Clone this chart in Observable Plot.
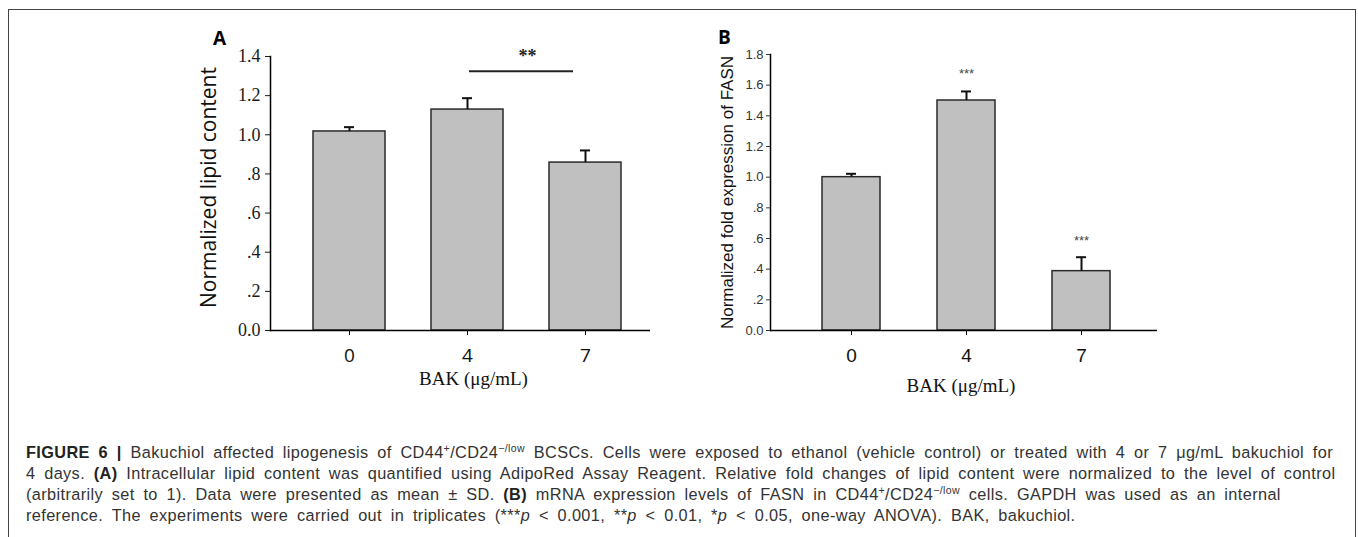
<!DOCTYPE html>
<html><head><meta charset="utf-8">
<script src="https://cdn.jsdelivr.net/npm/d3@7"></script>
<script src="https://cdn.jsdelivr.net/npm/@observablehq/plot@0.6"></script>
<style>
body{margin:0;background:#fff;}
#fig{position:relative;width:1358px;height:537px;overflow:hidden;background:#fff;}
#border{position:absolute;left:8px;top:9px;width:1346px;height:600px;border:1px solid #444;}
.panel{position:absolute;}
.letter{position:absolute;font-family:"Open Sans",sans-serif;font-weight:700;font-size:19px;line-height:1;color:#000;}
#caption{position:absolute;left:26px;top:442px;font-family:"Liberation Sans",Arial,sans-serif;font-size:16.3px;line-height:21px;color:#333;white-space:nowrap;}
#caption sup{font-size:10.5px;line-height:0;vertical-align:6px;}
#caption b{color:#222;}
</style></head>
<body>
<div id="fig">
  <div id="border"></div>
  <div class="letter" style="left:213px;top:29px">A</div>
  <div class="letter" style="left:718px;top:28px">B</div>
  <div id="panelA" class="panel" style="left:180px;top:20px"></div>
  <div id="panelB" class="panel" style="left:690px;top:20px"></div>
  <div id="caption">
    <div id="cap1"><b>FIGURE 6 |</b> Bakuchiol affected lipogenesis of CD44<sup>+</sup>/CD24<sup>−/low</sup> BCSCs. Cells were exposed to ethanol (vehicle control) or treated with 4 or 7 μg/mL bakuchiol for</div>
    <div>4 days. <b>(A)</b> Intracellular lipid content was quantified using AdipoRed Assay Reagent. Relative fold changes of lipid content were normalized to the level of control</div>
    <div>(arbitrarily set to 1). Data were presented as mean ± SD. <b>(B)</b> mRNA expression levels of FASN in CD44<sup>+</sup>/CD24<sup>−/low</sup> cells. GAPDH was used as an internal</div>
    <div>reference. The experiments were carried out in triplicates (***<i>p</i> &lt; 0.001, **<i>p</i> &lt; 0.01, *<i>p</i> &lt; 0.05, one-way ANOVA). BAK, bakuchiol.</div>
  </div>
</div>
<script>
// ---- data ----
const doses = ["0", "4", "7"];
const lipidMean = [1.017, 1.129, 0.858];
const lipidSD = [0.022, 0.058, 0.062];
const fasnMean = [1.0, 1.50, 0.387];
const fasnSD = [0.022, 0.059, 0.091];
const yTicksA = [0, 0.2, 0.4, 0.6, 0.8, 1.0, 1.2, 1.4];
const yTickLabelsA = ["0.0", ".2", ".4", ".6", ".8", "1.0", "1.2", "1.4"];
const yTicksB = [0, 0.2, 0.4, 0.6, 0.8, 1.0, 1.2, 1.4, 1.6, 1.8];
const yTickLabelsB = ["0.0", ".2", ".4", ".6", ".8", "1.0", "1.2", "1.4", "1.6", "1.8"];
const sigA = [{from: "4", to: "7", y: 1.325, label: "**", labelY: 1.40}];
const starsB = [{dose: "4", y: 1.676, label: "***"}, {dose: "7", y: 0.587, label: "***"}];
const yTitleA = "Normalized lipid content";
const yTitleB = "Normalized fold expression of FASN";
const xTitle = "BAK (μg/mL)";

const dataA = doses.map((d, i) => ({dose: d, mean: lipidMean[i], top: lipidMean[i] + lipidSD[i]}));
const dataB = doses.map((d, i) => ({dose: d, mean: fasnMean[i], top: fasnMean[i] + fasnSD[i]}));

const chartA = Plot.plot({
  width: 480, height: 380,
  marginLeft: 90, marginRight: 10, marginTop: 36, marginBottom: 70,
  style: {background: "transparent", overflow: "visible"},
  x: {type: "band", domain: doses, paddingInner: 0.39, paddingOuter: 0.305, align: 0.6, label: null},
  y: {domain: [0, 1.4], label: null},
  marks: [
    Plot.barY(dataA, {x: "dose", y: "mean", fill: "#c0c0c0", stroke: "#2a2a2a", strokeWidth: 1.5}),
    Plot.ruleX(dataA, {x: "dose", y1: "mean", y2: "top", stroke: "#111", strokeWidth: 2}),
    Plot.tickY(dataA, {x: "dose", y: "top", stroke: "#111", strokeWidth: 2, insetLeft: 31, insetRight: 31}),
    Plot.ruleY([0], {stroke: "#000", strokeWidth: 1.5}),
    Plot.frame({anchor: "left", stroke: "#000", strokeWidth: 1.5}),
    Plot.axisY({ticks: yTicksA, tickFormat: d => yTickLabelsA[yTicksA.indexOf(d)], tickSize: 5, tickPadding: 5,
      fontFamily: "Liberation Serif", fontSize: 18, color: "#1a1a1a", label: null}),
    Plot.axisX({tickSize: 5, tickPadding: 13, fontFamily: "Open Sans", fontSize: 19, color: "#111", label: null}),
    Plot.ruleY(sigA, {x1: "from", x2: "to", y: "y", stroke: "#222", strokeWidth: 2, insetLeft: 38, insetRight: 48}),
    Plot.text(sigA, {x: "from", y: "labelY", text: "label", dx: 60, fontFamily: "Liberation Serif", fontSize: 18, fontWeight: "bold", fill: "#222"}),
    Plot.text([yTitleA], {frameAnchor: "left", textAnchor: "middle", rotate: -90, dx: -61, dy: -6, fontFamily: "Open Sans", fontSize: 21, fill: "#111"}),
    Plot.text([xTitle], {frameAnchor: "bottom", dx: 13, dy: 54, fontFamily: "Liberation Serif", fontSize: 19, fill: "#111"})
  ]
});
document.getElementById("panelA").append(chartA);

const chartB = Plot.plot({
  width: 480, height: 380,
  marginLeft: 80, marginRight: 13, marginTop: 34, marginBottom: 70,
  style: {background: "transparent", overflow: "visible"},
  x: {type: "band", domain: doses, paddingInner: 0.495, paddingOuter: 0.419, align: 0.523, label: null},
  y: {domain: [0, 1.8], label: null},
  marks: [
    Plot.barY(dataB, {x: "dose", y: "mean", fill: "#c0c0c0", stroke: "#2a2a2a", strokeWidth: 1.5}),
    Plot.ruleX(dataB, {x: "dose", y1: "mean", y2: "top", stroke: "#111", strokeWidth: 2}),
    Plot.tickY(dataB, {x: "dose", y: "top", stroke: "#111", strokeWidth: 2, insetLeft: 24, insetRight: 24}),
    Plot.ruleY([0], {stroke: "#000", strokeWidth: 1.5}),
    Plot.frame({anchor: "left", stroke: "#000", strokeWidth: 1.5}),
    Plot.axisY({ticks: yTicksB, tickFormat: d => yTickLabelsB[yTicksB.indexOf(d)], tickSize: 4, tickPadding: 3,
      fontFamily: "Liberation Sans", fontSize: 13, color: "#333", label: null}),
    Plot.axisX({tickSize: 5, tickPadding: 13, fontFamily: "Liberation Sans", fontSize: 19, color: "#111", label: null}),
    Plot.text(starsB, {x: "dose", y: "y", text: "label", fontFamily: "Liberation Sans", fontSize: 13, fill: "#444"}),
    Plot.text([yTitleB], {frameAnchor: "left", textAnchor: "middle", rotate: -90, dx: -43, fontFamily: "Liberation Sans", fontSize: 17, fill: "#111"}),
    Plot.text([xTitle], {frameAnchor: "bottom", dx: -3, dy: 61, fontFamily: "Liberation Serif", fontSize: 19, fill: "#111"})
  ]
});
document.getElementById("panelB").append(chartB);

// fit caption width to the reference's line length (split between word and letter spacing)
const cap = document.getElementById("caption");
const line1 = document.getElementById("cap1");
const range = document.createRange(); range.selectNodeContents(line1);
const tw = range.getBoundingClientRect().width;
const txt = line1.textContent.trim();
const n = txt.length;
const spaces = (txt.match(/ /g) || []).length;
const extra = 1307 - tw;
cap.style.letterSpacing = (extra * 0.4 / n).toFixed(3) + "px";
cap.style.wordSpacing = (extra * 0.6 / spaces).toFixed(3) + "px";
</script>
</body></html>
